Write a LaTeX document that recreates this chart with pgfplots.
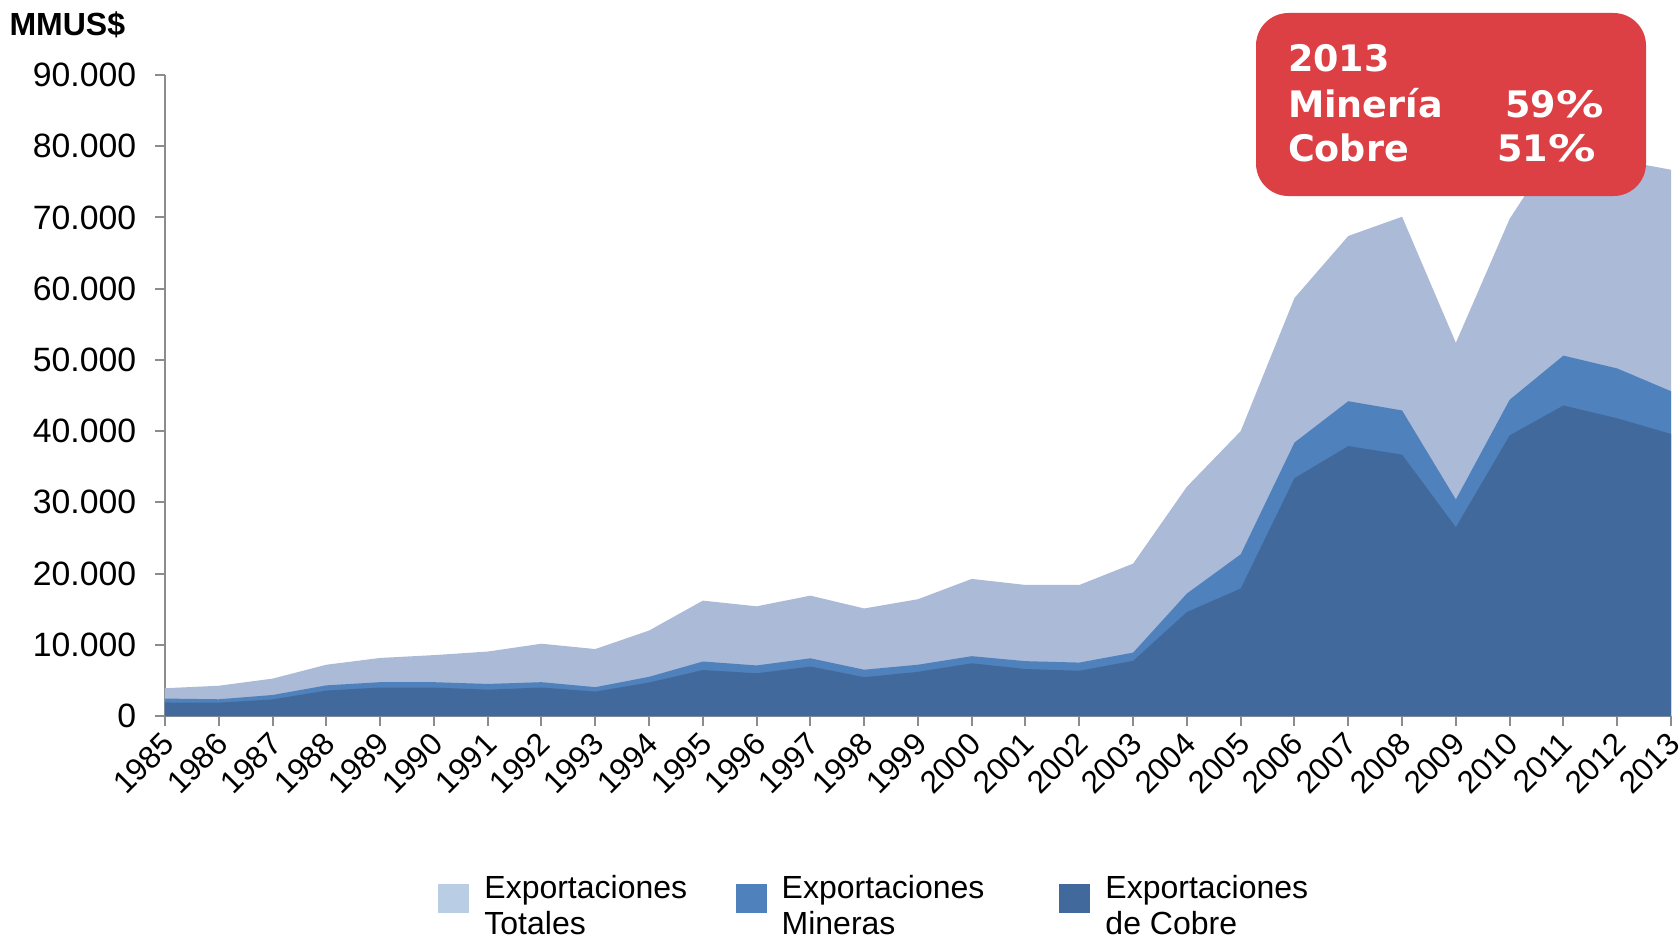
\documentclass[border=0pt]{standalone}
\usepackage{pgfplots}
\usepackage{pgfplotstable}
\usepackage{graphicx}
\pgfplotsset{compat=1.18}
\usepackage{fontspec}
\setmainfont{Liberation Sans}
\newfontfamily\boxfont{DejaVu Sans}
\definecolor{ctot}{HTML}{ABBAD7}
\definecolor{ctotleg}{HTML}{B9CDE5}
\definecolor{cmin}{HTML}{4F81BD}
\definecolor{ccu}{HTML}{41699B}
\definecolor{cbox}{HTML}{DC4045}
\definecolor{caxis}{HTML}{8C8C8C}

\pgfplotstableread{
year tot min cu
1985 3900 2450 1900
1986 4250 2350 1870
1987 5250 2950 2330
1988 7200 4300 3570
1989 8150 4750 4000
1990 8550 4750 4000
1991 9050 4500 3700
1992 10150 4750 4000
1993 9400 4050 3430
1994 12000 5500 4700
1995 16200 7650 6450
1996 15400 7100 6000
1997 16900 8100 6950
1998 15100 6500 5450
1999 16400 7200 6200
2000 19250 8400 7400
2001 18400 7700 6600
2002 18400 7500 6350
2003 21400 8900 7750
2004 32200 17200 14600
2005 40000 22700 17900
2006 58700 38400 33400
2007 67400 44200 37900
2008 70100 42900 36700
2009 52400 30400 26500
2010 69800 44400 39400
2011 81400 50600 43600
2012 78100 48800 41800
2013 76700 45600 39600
}\data

\begin{document}
\begin{tikzpicture}
\path[use as bounding box] (0,0) rectangle (672pt,376pt);
\begin{axis}[
  at={(66pt,89.6pt)}, anchor=south west,
  scale only axis, width=602.4pt, height=256.4pt,
  xmin=1985, xmax=2013, ymin=0, ymax=90000,
  axis lines=left,
  axis line style={-, caxis, line width=0.8pt},
  xtick={1985,...,2013},
  ytick={0,10000,...,90000},
  tick align=outside, major tick length=4pt,
  tick style={caxis, line width=0.8pt},
  scaled y ticks=false,
  /pgf/number format/assume math mode=true,
  x tick label style={rotate=45, anchor=east, inner sep=1pt, yshift=-4.5pt, xshift=-1.5pt,
     font=\fontsize{12.6}{14}\selectfont, /pgf/number format/1000 sep={}},
  y tick label style={font=\fontsize{13.5}{14}\selectfont,
     /pgf/number format/1000 sep={.}, xshift=-4pt},
  legend columns=3,
  legend style={at={(0.472,-0.232)}, anchor=north, draw=none, fill=none,
     font=\fontsize{12.8}{14.6}\selectfont, cells={align=left},
     /tikz/every odd column/.append style={column sep=4pt},
     /tikz/column 2/.append style={column sep=17.4pt},
     /tikz/column 4/.append style={column sep=28pt}},
]
\addplot[fill=ctot, draw=none,
  legend image code/.code={\fill[ctotleg] (0pt,-2.6pt) rectangle (12.4pt,9.0pt);}]
  table[x=year, y=tot] {\data} \closedcycle;
\addlegendentry{Exportaciones\\Totales}
\addplot[fill=cmin, draw=none,
  legend image code/.code={\fill[cmin] (0pt,-2.6pt) rectangle (12.4pt,9.0pt);}]
  table[x=year, y=min] {\data} \closedcycle;
\addlegendentry{Exportaciones\\Mineras}
\addplot[fill=ccu, draw=none,
  legend image code/.code={\fill[ccu] (0pt,-2.6pt) rectangle (12.4pt,9.0pt);}]
  table[x=year, y=cu] {\data} \closedcycle;
\addlegendentry{Exportaciones\\de Cobre}
\end{axis}
\node[anchor=base west, inner sep=0pt, font=\fontsize{12.8}{14}\selectfont\bfseries] at (3.6pt,361.6pt) {MMUS\$};
\fill[cbox, rounded corners=13pt] (502.4pt,297.6pt) rectangle (658.4pt,370.8pt);
\begin{scope}[every node/.style={anchor=base west, inner sep=0pt, text=white, font=\boxfont\bfseries\fontsize{14.6}{16}\selectfont}]
\node at (515pt,347.6pt) {2013};
\node at (515pt,329.2pt) {Minería};
\node at (515pt,311.4pt) {Cobre};
\node at (602pt,329.2pt) {59\scalebox{1.3}[1]{\%}};
\node at (598.8pt,311.4pt) {51\scalebox{1.3}[1]{\%}};
\end{scope}
\end{tikzpicture}
\end{document}
